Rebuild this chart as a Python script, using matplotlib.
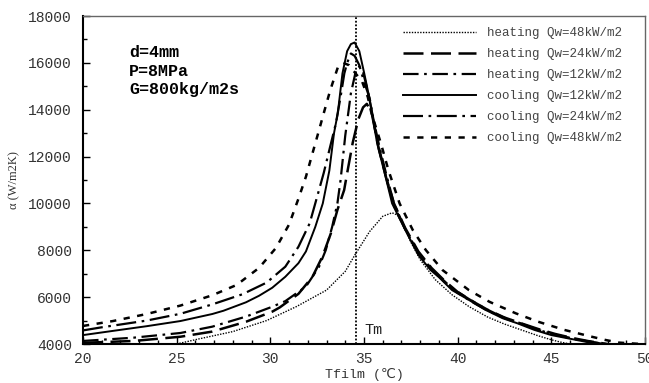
import matplotlib
matplotlib.use("Agg")
import matplotlib.pyplot as plt
from matplotlib.ticker import MultipleLocator

# ---------------- data ----------------
h48_T = [25.0, 26.2, 28.0, 29.8, 31.4, 33.0, 34.0, 34.55, 35.3, 36.0, 36.5, 36.8, 37.1, 37.5,
         38.0, 38.8, 39.7, 40.6, 41.6, 42.5, 43.4, 44.3, 45.0, 45.5, 46.0]
h48_a = [4000, 4220, 4530, 5000, 5600, 6300, 7100, 7850, 8800, 9450, 9600, 9500, 9050, 8350,
         7600, 6750, 6100, 5600, 5150, 4850, 4600, 4350, 4180, 4080, 4000]

h24_T = [20, 22.7, 25.2, 26.9, 28.7, 30.1, 30.5, 31.5, 32.25, 32.78, 33.23, 33.58, 33.94, 34.1,
         34.4, 34.7, 34.95, 35.15, 35.4, 35.8, 36.2, 36.6, 37.2, 37.9, 38.6, 39.3, 40.0, 40.8,
         41.6, 42.5, 43.4, 44.3, 45.2, 46.1, 47.0, 48.0]
h24_a = [4050, 4130, 4310, 4530, 4950, 5380, 5560, 6140, 6870, 7730, 8720, 9720, 10570, 11290,
         12600, 13600, 14100, 14250, 13900, 12300, 11050, 10000, 8950, 7950, 7250, 6700, 6220, 5820,
         5460, 5130, 4880, 4640, 4430, 4260, 4120, 4000]

h12_T = [20, 22.7, 25.2, 26.9, 28.7, 30.1, 30.8, 31.9, 32.6, 32.96, 33.3, 33.58, 33.75, 34.0,
         34.3, 34.55, 34.75, 34.95, 35.2, 35.5, 35.8, 36.2, 36.6, 37.2, 37.9, 38.6, 39.3, 40.0,
         40.8, 41.6, 42.5, 43.4, 44.3, 45.2, 46.1, 47.0, 47.9]
h12_a = [4130, 4270, 4470, 4740, 5170, 5590, 5830, 6450, 7300, 8010, 9000, 10000, 11000, 12900,
         14700, 15600, 15850, 15600, 14800, 13600, 12500, 11200, 10000, 8900, 7900, 7200, 6650, 6180,
         5780, 5420, 5100, 4850, 4600, 4400, 4230, 4100, 4000]

c12_T = [20, 21.6, 23.4, 25.2, 26.9, 27.5, 28.7, 29.4, 30.1, 30.8, 31.5, 31.9, 32.4, 32.8,
         33.15, 33.4, 33.6, 33.85, 34.1, 34.3, 34.5, 34.75, 35.0, 35.3, 35.7, 36.15, 36.5, 37.2,
         37.9, 38.55, 39.0, 39.7, 40.6, 41.5, 42.4, 43.2, 44.1, 45.0, 45.9, 46.8, 47.5]
c12_a = [4380, 4560, 4760, 4980, 5280, 5420, 5780, 6060, 6400, 6870, 7450, 7950, 9000, 10000,
         11400, 13000, 13850, 15550, 16500, 16800, 16870, 16500, 15600, 14450, 12570, 11140, 10000, 8870,
         7800, 7160, 6850, 6300, 5880, 5450, 5100, 4880, 4600, 4380, 4240, 4100, 4000]

c24_T = [20, 20.9, 23.4, 25.2, 26.9, 28.5, 29.8, 30.8, 31.5, 32.1, 32.5, 32.85, 33.15, 33.5,
         33.75, 33.95, 34.1, 34.3, 34.5, 34.75, 35.0, 35.3, 35.7, 36.2, 36.6, 37.2, 37.9, 38.6,
         39.0, 39.7, 40.6, 41.5, 42.4, 43.3, 44.2, 45.1, 46.0, 46.9, 47.8]
c24_a = [4580, 4700, 5000, 5290, 5690, 6120, 6620, 7300, 8150, 9150, 10290, 11300, 12280, 13420,
         14550, 15550, 16000, 16400, 16300, 15900, 15200, 14500, 12700, 11050, 9900, 8900, 7900, 7200,
         6900, 6380, 5920, 5500, 5150, 4900, 4630, 4410, 4260, 4120, 4000]

c48_T = [20, 21.6, 23.4, 25.2, 26.9, 28.2, 29.4, 30.3, 31.0, 31.5, 31.9, 32.3, 32.6, 32.9,
         33.2, 33.6, 33.9, 34.2, 34.5, 34.9, 35.2, 35.4, 35.9, 36.3, 36.9, 37.6, 38.3, 39.2,
         40.6, 41.7, 43.1, 44.3, 45.7, 47.0, 47.9, 48.6, 49.4, 49.8]
c48_a = [4770, 4980, 5280, 5640, 6080, 6520, 7250, 8100, 9100, 10200, 11140, 12280, 13130, 13990,
         14840, 15800, 16000, 15900, 15600, 15200, 14550, 13850, 12570, 11430, 10000, 8870, 8010, 7150,
         6300, 5800, 5310, 4950, 4600, 4340, 4170, 4060, 4020, 4000]

labels = ["heating Qw=48kW/m2", "heating Qw=24kW/m2", "heating Qw=12kW/m2",
          "cooling Qw=12kW/m2", "cooling Qw=24kW/m2", "cooling Qw=48kW/m2"]
Tm = 34.55
x_ticks = [20, 25, 30, 35, 40, 45, 50]
y_ticks = [4000, 6000, 8000, 10000, 12000, 14000, 16000, 18000]

# ---------------- figure ----------------
mono = ['Liberation Mono', 'DejaVu Sans Mono', 'Noto Sans CJK SC']
plt.rcParams['font.family'] = mono

fig = plt.figure(figsize=(6.49, 3.83), dpi=100)
ax = fig.add_axes([83/649, 39/383, 562/649, 328/383])

series = [
    (h48_T, h48_a, dict(linestyle=(0, (1, 1)), lw=1.0)),
    (h24_T, h24_a, dict(linestyle=(0, (8, 3)), lw=1.8)),
    (h12_T, h12_a, dict(linestyle=(0, (7, 2.5, 1.2, 2.5)), lw=1.6)),
    (c12_T, c12_a, dict(linestyle='-', lw=1.4)),
    (c24_T, c24_a, dict(linestyle=(0, (9, 2.5, 1.2, 2.5)), lw=1.6)),
    (c48_T, c48_a, dict(linestyle=(0, (2.5, 3)), lw=1.8)),
]
for (T, a, st), lab in zip(series, labels):
    ax.plot(T, a, color='black', label=lab, **st)

ax.axvline(Tm, color='black', linestyle=(0, (1, 1)), lw=1.3)
ax.text(35.0, 4420, "Tm", fontsize=11, color='#222222')

ax.text(22.45, 16750, "d=4mm\nP=8MPa\nG=800kg/m2s", fontsize=12, fontweight='bold',
        va='top', ha='left', linespacing=1.3)

ax.set_xlim(20, 50)
ax.set_ylim(4000, 18000)
ax.set_xticks(x_ticks)
ax.set_yticks(y_ticks)
ax.xaxis.set_minor_locator(MultipleLocator(1))
ax.yaxis.set_minor_locator(MultipleLocator(1000))
ax.tick_params(which='both', direction='in', top=False, right=False, labelsize=10.5,
               colors='black', labelcolor='#333333')
ax.tick_params(which='major', length=5, width=1)
ax.tick_params(which='minor', length=3, width=1)
ax.tick_params(axis='x', pad=6)
ax.tick_params(axis='y', pad=8)

for s in ['left', 'bottom']:
    ax.spines[s].set_linewidth(1.5)
for s in ['top', 'right']:
    ax.spines[s].set_linewidth(1.0)
    ax.spines[s].set_color('#666666')

ax.set_xlabel("Tfilm (℃)", fontsize=9.5, color='#333333', labelpad=1,
              family=['Liberation Mono', 'DejaVu Sans', 'Noto Sans CJK SC'])
ax.set_ylabel("α (W/m2K)", fontsize=9, color='#333333', labelpad=6,
              family=['Liberation Serif', 'DejaVu Serif'])

leg = ax.legend(loc='upper right', bbox_to_anchor=(0.979, 1.0), frameon=False, fontsize=9,
                handlelength=5.8, handletextpad=0.9, labelspacing=0.72, borderaxespad=0.5,
                labelcolor='#444444')

fig.savefig("out.png", dpi=100)
